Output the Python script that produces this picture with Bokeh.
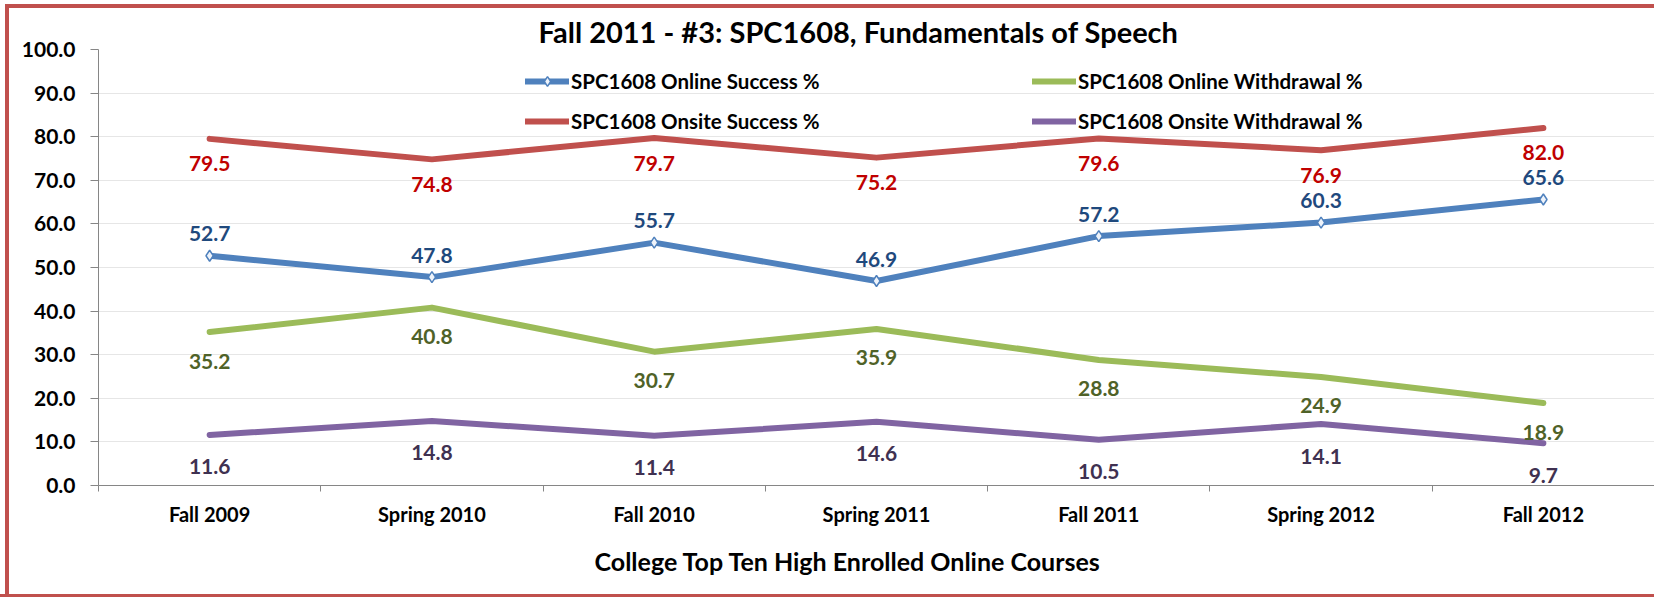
from bokeh.plotting import figure
from bokeh.models import (Range1d, FixedTicker, NumeralTickFormatter, Legend, LegendItem, Title)
from bokeh.core.properties import value
from bokeh.embed import file_html
from bokeh.resources import INLINE

# ---------------- data ----------------
categories = ["Fall 2009", "Spring 2010", "Fall 2010", "Spring 2011", "Fall 2011", "Spring 2012", "Fall 2012"]
online_success = [52.7, 47.8, 55.7, 46.9, 57.2, 60.3, 65.6]
onsite_success = [79.5, 74.8, 79.7, 75.2, 79.6, 76.9, 82.0]
online_withdrawal = [35.2, 40.8, 30.7, 35.9, 28.8, 24.9, 18.9]
onsite_withdrawal = [11.6, 14.8, 11.4, 14.6, 10.5, 14.1, 9.7]
y_ticks = [0, 10, 20, 30, 40, 50, 60, 70, 80, 90, 100]

title_text = "Fall 2011 - #3: SPC1608, Fundamentals of Speech"
x_title_text = "College Top Ten High Enrolled Online Courses"
names = ["SPC1608 Online Success %", "SPC1608 Onsite Success %",
         "SPC1608 Online Withdrawal %", "SPC1608 Onsite Withdrawal %"]

FONT = "Lato"
RED = "#C0504D"
xs = list(range(len(categories)))

p = figure(width=1654, height=594, output_backend="svg", toolbar_location=None,
           x_range=Range1d(-0.5, len(categories) - 0.5), y_range=Range1d(0, 100),
           min_border_left=98, min_border_right=0, min_border_top=49, min_border_bottom=109)
# chart-area border (left, top inset; bottom outside) drawn as CSS shadows
p.styles = {"box-shadow": f"inset 5px 4px 0 0 white, inset 9px 8px 0 0 {RED}, 0 3px 0 0 {RED}",
            "background-color": "white"}
p.outline_line_color = None
p.background_fill_color = "white"
p.border_fill_alpha = 0

# title
p.title.text = title_text
p.title.align = "left"
p.title.offset = 440
p.title.text_font = FONT
p.title.text_font_style = "bold"
p.title.text_font_size = "29px"
p.title.text_color = "black"
p.title.standoff = 1

# axes
p.yaxis.ticker = FixedTicker(ticks=y_ticks)
p.yaxis.formatter = NumeralTickFormatter(format="0.0")
p.yaxis.major_tick_out = 8
p.yaxis.major_tick_in = 0
p.yaxis.minor_tick_line_color = None
p.yaxis.major_label_standoff = 15
p.yaxis.axis_line_color = "#868686"
p.yaxis.major_tick_line_color = "#868686"
p.yaxis.major_label_text_font = FONT
p.yaxis.major_label_text_font_style = "bold"
p.yaxis.major_label_text_font_size = "21px"
p.yaxis.major_label_text_color = "black"

p.xaxis.ticker = FixedTicker(ticks=xs, minor_ticks=[i - 0.5 for i in range(len(categories) + 1)])
p.xaxis.major_label_overrides = {i: c for i, c in enumerate(categories)}
p.xaxis.major_tick_line_color = None
p.xaxis.major_tick_out = 0
p.xaxis.major_tick_in = 0
p.xaxis.minor_tick_line_color = "#868686"
p.xaxis.minor_tick_out = 6
p.xaxis.minor_tick_in = 0
p.xaxis.axis_line_color = "#868686"
p.xaxis.major_label_standoff = 10
p.xaxis.major_label_text_font = FONT
p.xaxis.major_label_text_font_style = "bold"
p.xaxis.major_label_text_font_size = "20px"
p.xaxis.major_label_text_color = "black"

p.xgrid.grid_line_color = None
p.ygrid.ticker = FixedTicker(ticks=y_ticks)
p.ygrid.grid_line_color = "#E6E6E6"
p.ygrid.grid_line_width = 1

# axis title as a title below the x axis
x_title = Title(text=x_title_text, align="left", offset=496, text_font=FONT,
                text_font_style="bold", text_font_size="25px", text_color="black",
                standoff=30)
p.add_layout(x_title, "below")

# series
series = [
    (online_success, "#4F81BD", "#1F497D", -22),
    (onsite_success, "#C0504D", "#C00000", 25),
    (online_withdrawal, "#9BBB59", "#4F6228", 29),
    (onsite_withdrawal, "#8064A2", "#3F3151", 32),
]
line_renderers = []
for vals, lc, tc, off in series:
    r = p.line(xs, vals, line_color=lc, line_width=6, line_cap="round", line_join="round")
    line_renderers.append(r)

marker_r = p.scatter(xs, online_success, marker="diamond", size=11, fill_color="#EEF3FA",
                     line_color="#4F81BD", line_width=1.5)

for vals, lc, tc, off in series:
    p.text(xs, vals, text=[f"{v:.1f}" for v in vals], text_font=value(FONT),
           text_font_style="bold", text_font_size="21px", text_color=tc,
           text_align="center", text_baseline="middle", y_offset=off)

# legends (two columns)
leg_common = dict(orientation="vertical", padding=0, margin=0, spacing=16,
                  glyph_width=44, glyph_height=24, label_height=24, label_standoff=2,
                  border_line_color=None, background_fill_alpha=0,
                  label_text_font=FONT, label_text_font_style="bold",
                  label_text_font_size="20.5px", label_text_color="black")
legA = Legend(items=[LegendItem(label=names[0], renderers=[line_renderers[0], marker_r]),
                     LegendItem(label=names[1], renderers=[line_renderers[1]])],
              location=(427, 352), **leg_common)
legB = Legend(items=[LegendItem(label=names[2], renderers=[line_renderers[2]]),
                     LegendItem(label=names[3], renderers=[line_renderers[3]])],
              location=(934, 352), **leg_common)
p.add_layout(legA)
p.add_layout(legB)

open("out.html", "w").write(file_html(p, INLINE))
